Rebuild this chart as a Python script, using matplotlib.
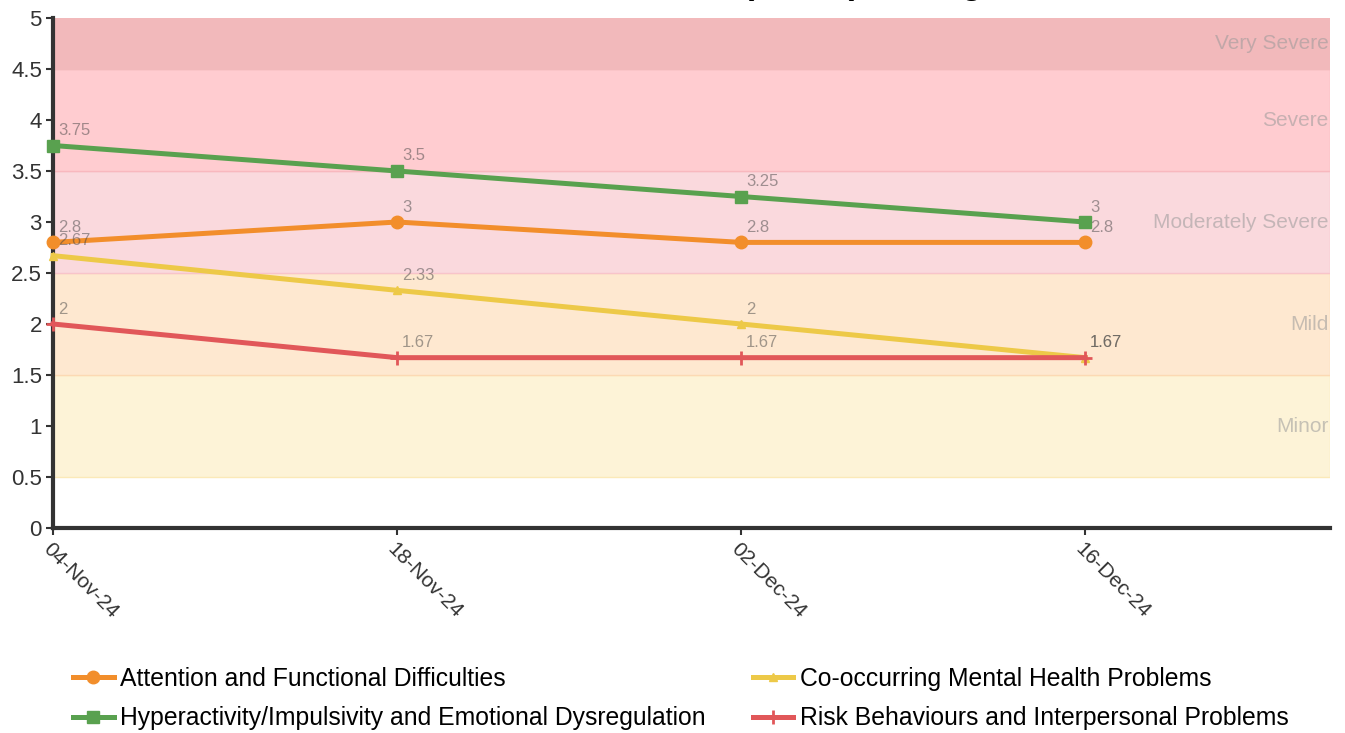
import matplotlib
matplotlib.use("Agg")
import matplotlib.pyplot as plt
import numpy as np

plt.rcParams['font.family'] = ['Liberation Sans', 'DejaVu Sans']

dates = ["04-Nov-24", "18-Nov-24", "02-Dec-24", "16-Dec-24"]

attention = [2.8, 3, 2.8, 2.8]
hyperactivity = [3.75, 3.5, 3.25, 3]
cooccurring = [2.67, 2.33, 2, 1.67]
risk = [2, 1.67, 1.67, 1.67]

series_names = ["Attention and Functional Difficulties",
                "Hyperactivity/Impulsivity and Emotional Dysregulation",
                "Co-occurring Mental Health Problems",
                "Risk Behaviours and Interpersonal Problems"]

band_names = ["Minor", "Mild", "Moderately Severe", "Severe", "Very Severe"]
band_lo = [0.5, 1.5, 2.5, 3.5, 4.5]
band_hi = [1.5, 2.5, 3.5, 4.5, 5.0]
band_colors = ["#fdf3d7", "#fee8d0", "#fad9dd", "#ffccd0", "#f2b9bb"]
band_edges = ["#fbe9b8", "#fcd9b4", "#f8c4ca", "#f8b8be", "#f2b9bb"]

# title sits mostly above the canvas, as in the original export
title = "Adult ADHD Self-Assessment (ASRS) Average Scores"

fig = plt.figure(figsize=(13.45, 7.33), dpi=100)
ax = fig.add_axes([53/1345, 205/733, 1277/1345, 510/733])

for lo, hi, c, ec, name in zip(band_lo, band_hi, band_colors, band_edges, band_names):
    ax.axhspan(lo, hi, facecolor=c, edgecolor=ec, lw=1, zorder=0)
    ax.text(0.999, (lo + hi) / 2, name, transform=ax.get_yaxis_transform(),
            ha='right', va='center', fontsize=15, color='#999999', alpha=0.55, zorder=1)

x = np.arange(len(dates))
styles = [
    (attention, "#f28e2b", "o", 9, 1),
    (hyperactivity, "#59a14f", "s", 8, 1),
    (cooccurring, "#edc948", "^", 6, 1),
    (risk, "#e15759", "+", 10, 2),
]
handles = []
for (vals, col, mk, ms, mew), name in zip(styles, series_names):
    h, = ax.plot(x, vals, color=col, lw=3.6, marker=mk, ms=ms, mew=mew,
                 mec=col, mfc=col, label=name, zorder=3, clip_on=False)
    handles.append(h)
    for xi, v in zip(x, vals):
        ax.annotate(f"{v:g}", (xi, v), xytext=(5, 15), textcoords='offset pixels',
                    ha='left', va='center', fontsize=12, color='#444444', alpha=0.5, zorder=4)

ax.set_xlim(0, 3.712)
ax.set_ylim(0, 5)
yt = np.arange(0, 5.01, 0.5)
ax.set_yticks(yt)
ax.set_yticklabels([f"{t:g}" for t in yt])
ax.set_xticks(x)
ax.set_xticklabels(dates, rotation=-45, ha='left', va='top', rotation_mode='anchor')

for s in ['top', 'right']:
    ax.spines[s].set_visible(False)
for s in ['left', 'bottom']:
    ax.spines[s].set_linewidth(3)
    ax.spines[s].set_color('#333333')
ax.tick_params(axis='both', colors='#333333', labelsize=16, width=1.5, length=5,
               direction='out')
ax.tick_params(axis='x', pad=3, labelsize=15)
ax.tick_params(axis='y', pad=3)

fig.text(691/1345, 1 + 6/733, title, ha='center', va='baseline',
         fontsize=24.5, fontweight='bold', color='black')

fig.legend(handles=handles, loc='upper left', bbox_to_anchor=(73/1345, 1 - 667/733),
           ncol=2, frameon=False, fontsize=17.8, handlelength=1.65, handletextpad=0.25,
           columnspacing=1.9, labelspacing=0.62, borderpad=0, borderaxespad=0)

fig.savefig("out.png", dpi=100)
